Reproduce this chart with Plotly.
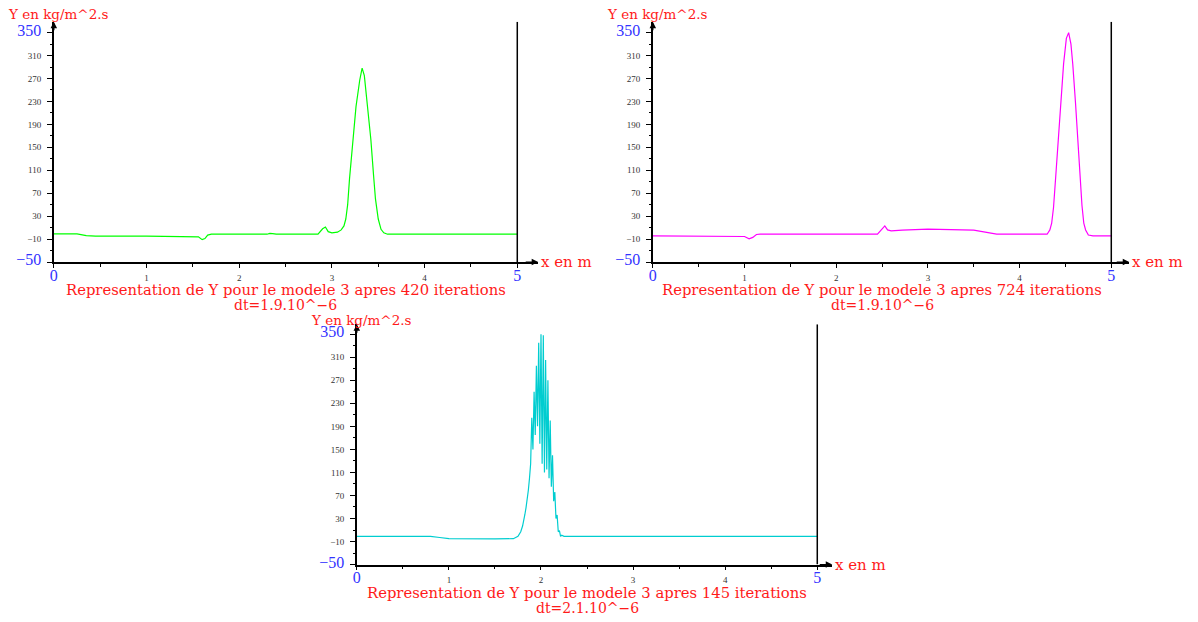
import plotly.graph_objects as go

W, H = 1198, 622

# ---------------- data ----------------
# Panel 1: 420 iterations (green)
x_420 = [0, 0.25, 0.35, 0.45, 1.0, 1.5, 1.56, 1.6, 1.63, 1.66, 1.7, 2.3, 2.33, 2.36, 2.4,
         2.85, 2.9, 2.93, 2.96, 3.0, 3.06, 3.1, 3.13, 3.15, 3.17, 3.19, 3.21, 3.23, 3.26, 3.3,
         3.326, 3.35, 3.38, 3.42, 3.45, 3.47, 3.5, 3.53, 3.56, 3.6, 5]
y_420 = [-1, -1, -4, -5, -5, -5, -6, -11, -9, -3, -1.5, -1.5, 0, -0.5, -1.5,
         -1.5, 8, 11, 3, 1, 2, 6, 13, 25, 50, 95, 130, 164, 221, 267,
         288, 275, 230, 164, 100, 60, 25, 7, 1, -1.5, -1.5]

# Panel 2: 724 iterations (magenta)
x_724 = [0, 0.95, 1.0, 1.05, 1.09, 1.13, 1.17, 2.45, 2.5, 2.53, 2.56, 2.6, 2.72, 3.0, 3.5,
         3.65, 3.75, 4.3, 4.33, 4.35, 4.37, 4.39, 4.41, 4.43, 4.45, 4.48, 4.51, 4.535, 4.56,
         4.58, 4.61, 4.64, 4.66, 4.68, 4.7, 4.72, 4.75, 4.8, 5]
y_724 = [-4.5, -4.5, -5.5, -9.5, -7, -2, -1.5, -1.5, 8, 13, 6, 4.5, 5.5, 7.5, 5.5,
         2, -1.5, -1.5, 6, 18, 45, 90, 140, 185, 227, 296, 340, 350, 330,
         295, 227, 141, 90, 49, 18, 6, -3, -4.5, -4.5]

# Panel 3: 145 iterations (cyan, oscillating peak)
x_145 = [0, 0.8, 0.9, 1.0, 1.5, 1.7, 1.75, 1.78, 1.8, 1.8125, 1.825, 1.8375, 1.85, 1.8625,
         1.875, 1.8875, 1.9, 1.9125, 1.925, 1.9375, 1.95, 1.9625, 1.975, 1.9875, 2.0, 2.0125,
         2.025, 2.0375, 2.05, 2.0625, 2.075, 2.0875, 2.1, 2.1125, 2.125, 2.1375, 2.15, 2.1625,
         2.175, 2.1875, 2.2, 2.2125, 2.225, 2.25, 5]
y_145 = [-1, -1, -3, -5, -5.5, -5, -1, 7, 17, 25, 37, 49, 61, 79,
         100, 125, 205, 150, 250, 175, 295, 190, 335, 160, 350, 125,
         348, 110, 305, 115, 270, 100, 200, 85, 140, 60, 76, 30,
         36, 7, 9, -1, 1, -1, -1]

y_ticks = [-50, -10, 30, 70, 110, 150, 190, 230, 270, 310, 350]
y_minor = [-30, 10, 50, 90, 130, 170, 210, 250, 290, 330]
x_ticks = [0, 1, 2, 3, 4, 5]
x_minor = [0.5, 1.5, 2.5, 3.5, 4.5]

y_title = "Y en kg/m^2.s"
x_title = "x en m"
captions = ["Representation de Y pour le modele 3 apres 420 iterations",
            "Representation de Y pour le modele 3 apres 724 iterations",
            "Representation de Y pour le modele 3 apres 145 iterations"]
dt_labels = ["dt=1.9.10^\u22126", "dt=1.9.10^\u22126", "dt=2.1.10^\u22126"]

series = [(x_420, y_420), (x_724, y_724), (x_145, y_145)]
colors = ["rgb(0,255,0)", "rgb(255,0,255)", "rgb(0,205,208)"]

# ---------------- layout geometry (pixels) ----------------
panels = [
    dict(px0=50, px5=515, pxtip=536, py350=32, pym50=264, pytip=21, ytdy=8),
    dict(px0=651, px5=1111, pxtip=1129, py350=32, pym50=264, pytip=21, ytdy=8),
    dict(px0=354, px5=816, pxtip=831, py350=337, pym50=570, pytip=327, ytdy=4),
]

SERIF = "Liberation Serif, Times New Roman, serif"
TSERIF = "DejaVu Serif, serif"
RED = "#ff1a1a"
BLUE = "#3333ff"


def big(t):
    return f'<span style="font-size:16px;color:{BLUE}">{t}</span>'


def ylab(v):
    s = str(v).replace("-", "\u2212")
    return big(s) if v in (-50, 350) else s


def xlab(v):
    return big(str(v)) if v in (0, 5) else str(v)


fig = go.Figure()
layout = dict(width=W, height=H, margin=dict(l=0, r=0, t=0, b=0),
              paper_bgcolor="white", plot_bgcolor="white", showlegend=False)
annotations = []
shapes = []

for i, (p, (xs, ys), col) in enumerate(zip(panels, series, colors)):
    n = "" if i == 0 else str(i + 1)
    ppx = (p["px5"] - p["px0"]) / 5.0
    ppy = (p["pym50"] - p["py350"]) / 400.0
    xmax = (p["pxtip"] - p["px0"]) / ppx
    ymax = 350 + (p["py350"] - p["pytip"]) / ppy
    xd = [p["px0"] / W, p["pxtip"] / W]
    yd = [1 - p["pym50"] / H, 1 - p["pytip"] / H]

    fig.add_trace(go.Scatter(x=xs, y=ys, mode="lines", line=dict(color=col, width=1.2),
                             xaxis="x" + n, yaxis="y" + n, hoverinfo="skip"))

    layout["xaxis" + n] = dict(
        domain=xd, range=[0, xmax], anchor="y" + n, showgrid=False, zeroline=False,
        showline=True, linecolor="black", linewidth=1.5,
        ticks="outside", ticklen=4, tickwidth=1, tickcolor="black",
        tickvals=x_ticks, ticktext=[xlab(v) for v in x_ticks], ticklabelstandoff=2,
        tickfont=dict(family=SERIF, size=9, color="#333"),
        minor=dict(tickvals=x_minor, ticks="outside", ticklen=3, tickcolor="black"),
        fixedrange=True)
    layout["yaxis" + n] = dict(
        domain=yd, range=[-50, ymax], anchor="x" + n, showgrid=False, zeroline=False,
        showline=True, linecolor="black", linewidth=1.5,
        ticks="outside", ticklen=5, tickwidth=1, tickcolor="black",
        tickvals=y_ticks, ticktext=[ylab(v) for v in y_ticks], ticklabelstandoff=4,
        tickfont=dict(family=SERIF, size=9, color="#333"),
        minor=dict(tickvals=y_minor, ticks="outside", ticklen=2, tickcolor="black"),
        fixedrange=True)

    # vertical line at x = 5
    shapes.append(dict(type="line", xref="x" + n, yref="y" + n, x0=5, x1=5, y0=-50,
                       y1=ymax, line=dict(color="black", width=1.5)))
    # arrow heads
    annotations.append(dict(x=xmax, y=-50, xref="x" + n, yref="y" + n, ax=-14, ay=0,
                            showarrow=True, arrowhead=2, arrowsize=1, arrowwidth=1.3,
                            arrowcolor="black", text=""))
    annotations.append(dict(x=0, y=ymax, xref="x" + n, yref="y" + n, ax=0, ay=10,
                            showarrow=True, arrowhead=2, arrowsize=1, arrowwidth=1.3,
                            arrowcolor="black", text=""))
    # axis titles
    annotations.append(dict(x=(p["pxtip"] + 2) / W, y=1 - p["pym50"] / H, xref="paper",
                            yref="paper", xanchor="left", yanchor="middle", showarrow=False,
                            borderpad=0, text=x_title,
                            font=dict(family=TSERIF, size=15, color=RED)))
    annotations.append(dict(x=(p["px0"] - 47) / W, y=1 - (p["pytip"] - p["ytdy"]) / H,
                            xref="paper", yref="paper", xanchor="left", yanchor="middle",
                            showarrow=False, borderpad=0, text=y_title,
                            font=dict(family=TSERIF, size=13.5, color=RED)))
    # captions
    cx = (p["px0"] + p["px5"]) / 2 / W
    annotations.append(dict(x=cx, y=1 - (p["pym50"] + 28.2) / H, xref="paper", yref="paper",
                            xanchor="center", yanchor="middle", showarrow=False, borderpad=0,
                            text=captions[i], font=dict(family=TSERIF, size=14.8, color=RED)))
    annotations.append(dict(x=cx, y=1 - (p["pym50"] + 43.8) / H, xref="paper", yref="paper",
                            xanchor="center", yanchor="middle", showarrow=False, borderpad=0,
                            text=dt_labels[i], font=dict(family=TSERIF, size=14, color=RED)))

layout["annotations"] = annotations
layout["shapes"] = shapes
fig.update_layout(**layout)
fig.write_html("out.html")
